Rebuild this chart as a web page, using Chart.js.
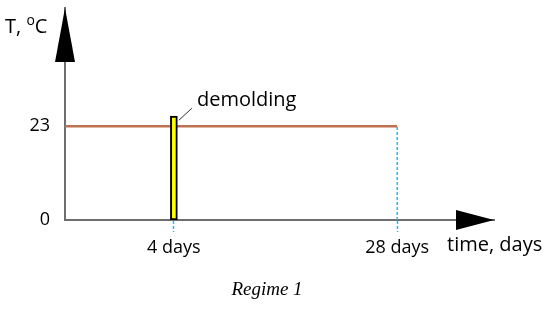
<!DOCTYPE html>
<html>
<head>
<meta charset="utf-8">
<script src="https://cdn.jsdelivr.net/npm/chart.js@4"></script>
<style>
  html, body { margin: 0; padding: 0; background: #fff; }
  #wrap { width: 550px; height: 313px; position: relative; }
</style>
</head>
<body>
<div id="wrap"><canvas id="regime1"></canvas></div>
<script>
// data
const tempLevel = 23;
const tempTicks = [0, 23];
const dayTicks = [4, 28];
const dayLabels = ['4 days', '28 days'];
const demoldDay = 4;
const endDay = 28;
const startDay = -7.7;
const dayMax = 38.4;
const tempMax = 52;

const sansFont = '"Open Sans", "DejaVu Sans", sans-serif';
const dotBlue = '#2cb8f6';

// arrows, axis titles and notes
const decorations = {
    id: 'decorations',
    afterDraw(chart) {
        const c = chart.ctx;
        const x = chart.scales.x, y = chart.scales.y;
        const x0 = x.left, y0 = y.bottom;
        c.save();
        c.fillStyle = '#000';
        // y arrow
        c.beginPath();
        c.moveTo(x0, chart.chartArea.top);
        c.lineTo(x0 - 10, chart.chartArea.top + 54);
        c.lineTo(x0 + 10, chart.chartArea.top + 54);
        c.closePath();
        c.fill();
        // x arrow
        c.beginPath();
        c.moveTo(x.right, y0);
        c.lineTo(x.right - 38, y0 - 10);
        c.lineTo(x.right - 38, y0 + 10);
        c.closePath();
        c.fill();

        c.font = '20px ' + sansFont;
        c.textBaseline = 'middle';
        c.textAlign = 'left';
        c.fillText('T, ', 5, 27);
        const tw = c.measureText('T, ').width;
        c.font = '14px ' + sansFont;
        c.fillText('o', 5 + tw, 21);
        const ow = c.measureText('o').width;
        c.font = '20px ' + sansFont;
        c.fillText('C', 5 + tw + ow, 27);
        c.fillText('time, days', 447, 245);
        c.fillText('demolding', 197, 100);

        // leader line
        const bx = x.getPixelForValue(demoldDay) + 5;
        const by = y.getPixelForValue(tempLevel) - 6;
        c.strokeStyle = '#333';
        c.lineWidth = 1;
        c.beginPath();
        c.moveTo(bx, by);
        c.lineTo(bx + 13, by - 12);
        c.stroke();

        c.font = 'italic 19px "Liberation Serif", serif';
        c.textAlign = 'center';
        c.fillText('Regime 1', 267, 290);
        c.restore();
    }
};

new Chart(document.getElementById('regime1'), {
    data: {
        datasets: [{
            type: 'line',
            data: [{x: startDay, y: tempLevel}, {x: endDay, y: tempLevel}],
            borderColor: '#c0714f',
            borderWidth: 2.5,
            pointRadius: 0,
            order: 2
        }, {
            type: 'line',
            data: [{x: endDay, y: 0}, {x: endDay, y: tempLevel}],
            borderColor: dotBlue,
            borderWidth: 1.5,
            borderDash: [3, 2],
            pointRadius: 0,
            order: 3
        }, {
            type: 'bar',
            data: [{x: demoldDay, y: tempLevel + 2.5}],
            backgroundColor: '#ffff00',
            borderColor: '#000',
            borderWidth: 2,
            borderSkipped: false,
            barThickness: 7,
            order: 1
        }]
    },
    options: {
        responsive: true,
        maintainAspectRatio: false,
        animation: false,
        layout: { padding: { top: 8, right: 56, left: 0, bottom: 0 } },
        plugins: { legend: { display: false }, tooltip: { enabled: false } },
        scales: {
            x: {
                type: 'linear',
                min: startDay,
                max: dayMax,
                offset: false,
                afterBuildTicks: (s) => { s.ticks = dayTicks.map(v => ({ value: v })); },
                afterFit: (s) => { s.height = 93; s.paddingLeft = 0; s.paddingRight = 0; },
                grid: {
                    offset: false,
                    drawOnChartArea: false,
                    drawTicks: true,
                    tickLength: 12,
                    tickColor: dotBlue,
                    tickBorderDash: [3, 2],
                    tickWidth: 1.5
                },
                border: { color: '#6e6e6e', width: 2 },
                ticks: {
                    color: '#000',
                    padding: 5,
                    maxRotation: 0,
                    font: { family: sansFont, size: 18 },
                    callback: (v) => dayLabels[dayTicks.indexOf(v)]
                }
            },
            y: {
                type: 'linear',
                min: 0,
                max: tempMax,
                afterBuildTicks: (s) => { s.ticks = tempTicks.map(v => ({ value: v })); },
                afterFit: (s) => { s.width = 65; s.paddingTop = 0; s.paddingBottom = 0; },
                grid: { display: false },
                border: { color: '#6e6e6e', width: 2 },
                ticks: {
                    color: '#000',
                    padding: 7,
                    font: { family: sansFont, size: 18 }
                }
            }
        }
    },
    plugins: [decorations]
});
</script>
</body>
</html>
